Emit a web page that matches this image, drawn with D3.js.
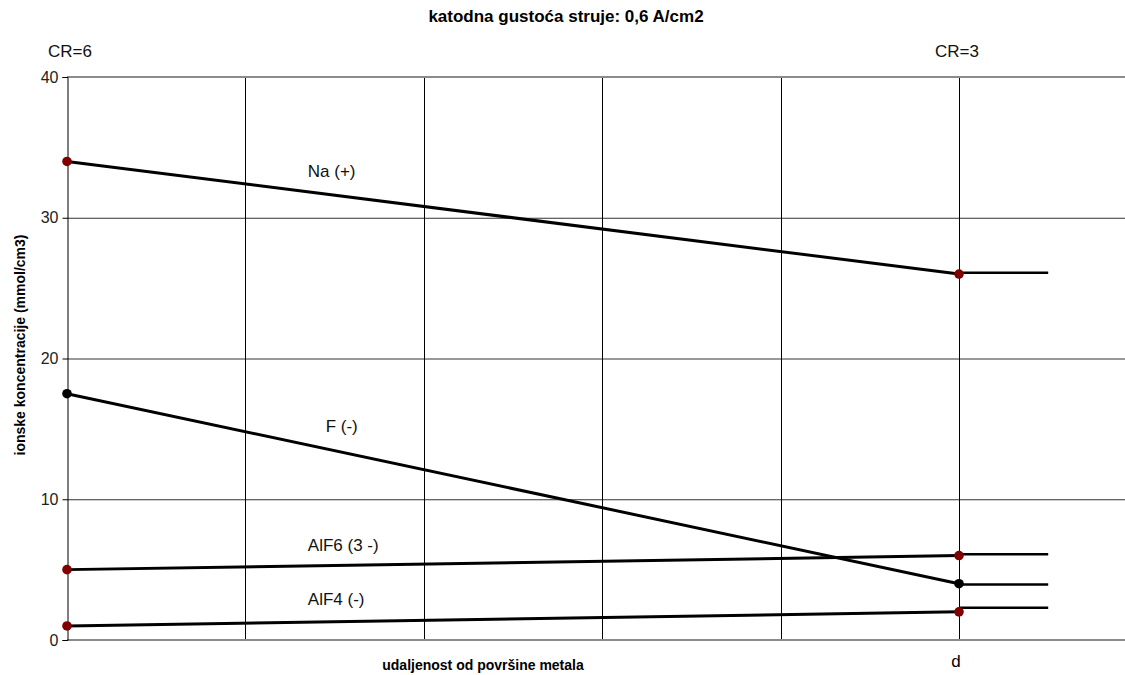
<!DOCTYPE html>
<html>
<head>
<meta charset="utf-8">
<script src="https://cdn.jsdelivr.net/npm/d3@7"></script>
<style>
  body { margin: 0; background: #fff; }
  svg { display: block; font-family: "Liberation Sans", Arial, sans-serif; }
</style>
</head>
<body>
<div id="chart"></div>
<script>
// chart data
var xPositions = [0, 5];           // CR=6 ... d (CR=3)
var xExtend = 5.5;                 // end of the flat tails after d
var topLabels = ["CR=6", "CR=3"];
var yTicks = [0, 10, 20, 30, 40];
var xTickLabel = "d";

var seriesNames = ["Na (+)", "F (-)", "AlF6 (3 -)", "AlF4 (-)"];
var naValues = [34, 26];
var fValues = [17.5, 4];
var alf6Values = [5, 6];
var alf4Values = [1, 2];
var tailValues = [26.1, 3.95, 6.1, 2.3];   // flat lines after d
var dotColors = ["#800000", "#000000", "#800000", "#800000"];
var labelAt = [[1.35, 32.9], [1.45, 14.8], [1.35, 6.3], [1.35, 2.5]];

var seriesValues = [naValues, fValues, alf6Values, alf4Values];

var width = 1125, height = 675,
    margin = { top: 77, right: 0, bottom: 35, left: 67 };

var x = d3.scaleLinear().domain([0, 5]).range([margin.left, 959]),
    y = d3.scaleLinear().domain([0, 40]).range([640, margin.top]);

var svg = d3.select("#chart").append("svg")
    .attr("width", width)
    .attr("height", height);

// gridlines
svg.append("g").selectAll("line.h")
    .data([10, 20, 30])
    .enter().append("line")
    .attr("x1", x(0)).attr("x2", width)
    .attr("y1", function(d) { return y(d) + 0.5; })
    .attr("y2", function(d) { return y(d) + 0.5; })
    .attr("stroke", "#333").attr("stroke-width", 1);

svg.append("g").selectAll("line.v")
    .data([1, 2, 3, 4, 5])
    .enter().append("line")
    .attr("x1", function(d) { return Math.round(x(d)) + 0.5; })
    .attr("x2", function(d) { return Math.round(x(d)) + 0.5; })
    .attr("y1", y(40)).attr("y2", y(0))
    .attr("stroke", "#000").attr("stroke-width", 1);

// top frame line and bottom axis line (grey)
[40, 0].forEach(function(v) {
    svg.append("line")
        .attr("x1", x(0)).attr("x2", width)
        .attr("y1", y(v)).attr("y2", y(v))
        .attr("stroke", "#8c8c8c").attr("stroke-width", 2);
});

// y axis
var yAxis = d3.axisLeft(y).tickValues(yTicks).tickSize(5).tickPadding(4);
var gy = svg.append("g")
    .attr("transform", "translate(" + (x(0) + 0.5) + ",0)")
    .call(yAxis);
gy.select(".domain").attr("stroke", "#000");
gy.selectAll(".tick line").attr("stroke", "#000");
gy.selectAll("text")
    .attr("font-size", 16)
    .attr("fill", "#222")
    .attr("font-family", "Liberation Sans, Arial, sans-serif");

// x tick at d
svg.append("text")
    .attr("x", x(5) - 3).attr("y", 667)
    .attr("text-anchor", "middle")
    .attr("font-size", 17)
    .text(xTickLabel);

// lines
var line = d3.line()
    .x(function(d) { return x(d[0]); })
    .y(function(d) { return y(d[1]); });

seriesValues.forEach(function(vals, i) {
    svg.append("path")
        .datum([[xPositions[0], vals[0]], [xPositions[1], vals[1]]])
        .attr("d", line)
        .attr("fill", "none")
        .attr("stroke", "#000")
        .attr("stroke-width", 3);

    svg.append("path")
        .datum([[xPositions[1], tailValues[i]], [xExtend, tailValues[i]]])
        .attr("d", line)
        .attr("fill", "none")
        .attr("stroke", "#000")
        .attr("stroke-width", 2.5);

    svg.selectAll(null)
        .data(vals)
        .enter().append("circle")
        .attr("cx", function(d, j) { return x(xPositions[j]); })
        .attr("cy", function(d) { return y(d); })
        .attr("r", 4.8)
        .attr("fill", dotColors[i]);

    svg.append("text")
        .attr("x", x(labelAt[i][0]))
        .attr("y", y(labelAt[i][1]))
        .attr("font-size", 17)
        .attr("fill", "#111")
        .text(seriesNames[i]);
});

// CR labels above the plot
svg.selectAll("text.cr")
    .data(topLabels)
    .enter().append("text")
    .attr("class", "cr")
    .attr("x", function(d, i) { return x(xPositions[i]) + (i === 0 ? 3 : -2); })
    .attr("y", 57)
    .attr("text-anchor", "middle")
    .attr("font-size", 17)
    .attr("fill", "#111")
    .text(function(d) { return d; });

// title
svg.append("text")
    .attr("x", 566).attr("y", 22)
    .attr("text-anchor", "middle")
    .attr("font-size", 17)
    .attr("font-weight", "bold")
    .text("katodna gustoća struje: 0,6 A/cm2");

// axis titles
svg.append("text")
    .attr("x", 483).attr("y", 670)
    .attr("text-anchor", "middle")
    .attr("font-size", 14)
    .attr("font-weight", "bold")
    .text("udaljenost od površine metala");

svg.append("text")
    .attr("transform", "translate(25,345) rotate(-90)")
    .attr("text-anchor", "middle")
    .attr("font-size", 14)
    .attr("font-weight", "bold")
    .text("ionske koncentracije (mmol/cm3)");
</script>
</body>
</html>
